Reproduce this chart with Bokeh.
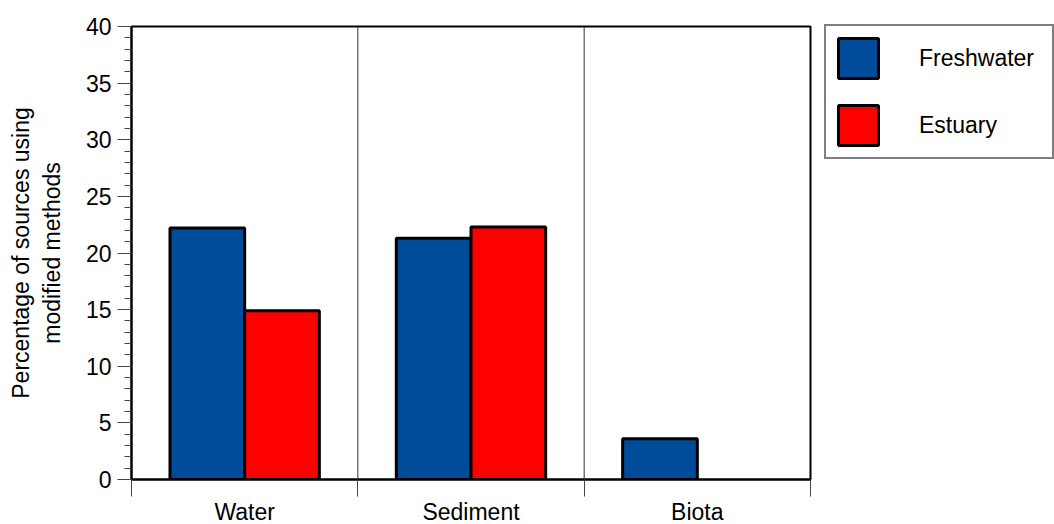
from bokeh.plotting import figure
from bokeh.models import (Range1d, FixedTicker, ColumnDataSource, Span, Legend, LegendItem)
from bokeh.embed import file_html
from bokeh.resources import INLINE

categories = ["Water", "Sediment", "Biota"]
freshwater = [22.2, 21.3, 3.6]
estuary = [14.9, 22.3, 0.0]
series_names = ["Freshwater", "Estuary"]
y_ticks = [0, 5, 10, 15, 20, 25, 30, 35, 40]

FONT = "Liberation Sans"
FS = "23px"
BLUE = "#004C99"
RED = "#FF0000"
BW = 0.33

centers = [i + 0.5 for i in range(len(categories))]

p = figure(frame_width=679, frame_height=453, output_backend="svg", toolbar_location=None,
           x_range=Range1d(0, len(categories)), y_range=Range1d(0, 40),
           min_border_left=131, min_border_right=244, min_border_top=26, min_border_bottom=0)

src_f = ColumnDataSource(dict(x=[c - BW / 2 for c in centers], top=freshwater))
ex = [(c + BW / 2, v) for c, v in zip(centers, estuary) if v > 0]
src_e = ColumnDataSource(dict(x=[e[0] for e in ex], top=[e[1] for e in ex]))

rf = p.vbar(x="x", top="top", bottom=0, width=BW, source=src_f,
            fill_color=BLUE, line_color="black", line_width=3)
re_ = p.vbar(x="x", top="top", bottom=0, width=BW, source=src_e,
             fill_color=RED, line_color="black", line_width=3)

for b in range(1, len(categories)):
    p.add_layout(Span(location=b, dimension="height", line_color="#333333", line_width=1))

p.grid.visible = False
p.outline_line_color = "black"
p.outline_line_width = 2
p.background_fill_color = "white"
p.border_fill_color = "white"

# x axis
xa = p.xaxis[0]
xa.ticker = FixedTicker(ticks=centers, minor_ticks=list(range(len(categories) + 1)))
xa.major_label_overrides = {c: n for c, n in zip(centers, categories)}
xa.major_tick_line_color = None
xa.major_tick_out = 0
xa.major_tick_in = 0
xa.minor_tick_line_color = "#444444"
xa.minor_tick_out = 17
xa.minor_tick_in = 0
xa.axis_line_width = 2
xa.axis_line_color = "black"
xa.major_label_text_font = FONT
xa.major_label_text_font_size = FS
xa.major_label_text_color = "black"
xa.major_label_standoff = 2

# y axis
ya = p.yaxis[0]
ya.ticker = FixedTicker(ticks=y_ticks, minor_ticks=list(range(0, 41)))
ya.major_tick_out = 14
ya.major_tick_in = 0
ya.minor_tick_out = 7
ya.minor_tick_in = 0
ya.major_tick_line_color = "#444444"
ya.minor_tick_line_color = "#444444"
ya.axis_line_width = 2
ya.axis_line_color = "black"
ya.major_label_text_font = FONT
ya.major_label_text_font_size = FS
ya.major_label_text_color = "black"
ya.major_label_standoff = 6
ya.axis_label = "Percentage of sources using\nmodified methods"
ya.axis_label_text_font = FONT
ya.axis_label_text_font_size = FS
ya.axis_label_text_font_style = "normal"
ya.axis_label_text_color = "black"
ya.axis_label_standoff = 18

legend = Legend(items=[LegendItem(label=series_names[0], renderers=[rf]),
                       LegendItem(label=series_names[1], renderers=[re_])],
                location=(14, 320), orientation="vertical",
                glyph_width=50, glyph_height=50, padding=7, spacing=17,
                label_standoff=36, label_width=126,
                label_text_font=FONT, label_text_font_size=FS, label_text_color="black",
                border_line_color="black", border_line_width=2,
                background_fill_color="white", background_fill_alpha=1.0,
                margin=0)
p.add_layout(legend, "right")

open("out.html", "w").write(file_html(p, INLINE))
